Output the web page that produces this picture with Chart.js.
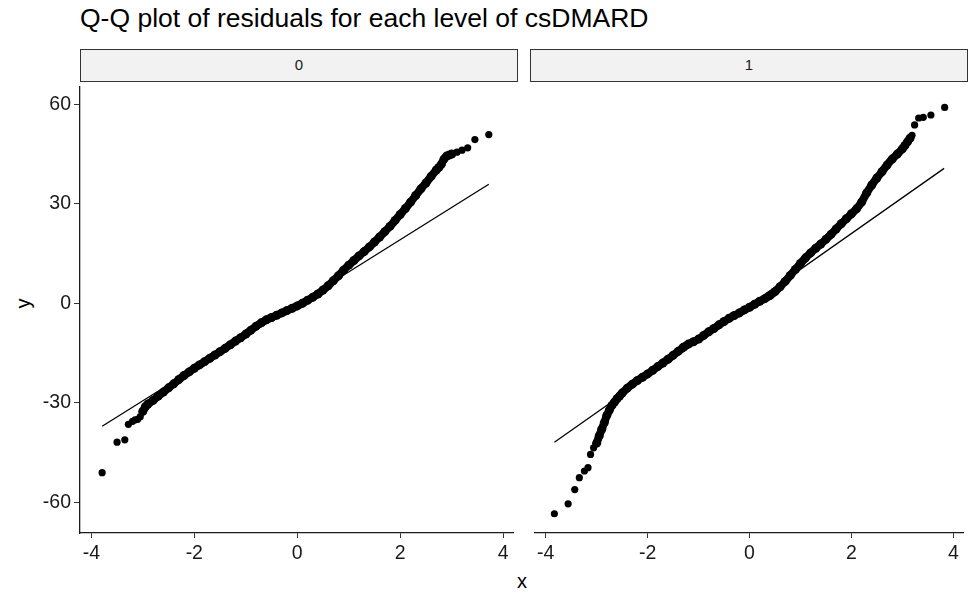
<!DOCTYPE html>
<html>
<head>
<meta charset="utf-8">
<script src="https://cdn.jsdelivr.net/npm/chart.js@4"></script>
<style>
  body { margin: 0; background: #fff; width: 979px; height: 605px; overflow: hidden;
         font-family: "Liberation Sans", Arial, sans-serif; position: relative; }
  #title { position: absolute; left: 80px; top: 3px; font-size: 26.5px; color: #000; white-space: nowrap; }
  .strip { position: absolute; top: 49px; height: 33px; box-sizing: border-box; border: 1.5px solid #333;
           background: #f2f2f2; font-size: 15px; color: #1a1a1a; text-align: center; line-height: 30px; }
  .panel { position: absolute; top: 82px; height: 523px; }
  #ylab { position: absolute; left: 18px; top: 292px; font-size: 20px; transform: rotate(-90deg); color: #000; }
  #xlab { position: absolute; left: 517px; top: 570px; font-size: 20px; color: #000; }
</style>
</head>
<body>
<div id="title">Q-Q plot of residuals for each level of csDMARD</div>
<div class="strip" id="strip0" style="left:80px; width:438px;"></div>
<div class="strip" id="strip1" style="left:530px; width:438px;"></div>
<div id="ylab">y</div>
<div id="xlab">x</div>
<div class="panel" style="left:0; width:518px;"><canvas id="panel0"></canvas></div>
<div class="panel" style="left:530px; width:438px;"><canvas id="panel1"></canvas></div>
<script>
// facet levels
const levels = ["0", "1"];

// ticks
const xTicks = [-4, -2, 0, 2, 4];
const yTicks = [-60, -30, 0, 30, 60];

// csDMARD = 0 : theoretical vs sample quantiles
const q0X = [-3.79, -3.50, -3.35, -3.28, -3.20, -3.15, -3.10, -3.05, -3.00, -2.95, -2.90, -2.80, -2.70, -2.60, -2.50,
  -2.40, -2.30, -2.20, -2.10, -2.00, -1.90, -1.80, -1.70, -1.60, -1.50, -1.40, -1.30, -1.20, -1.10, -1.00,
  -0.90, -0.80, -0.70, -0.60, -0.50, -0.40, -0.30, -0.20, -0.10, 0.00, 0.10, 0.20, 0.30, 0.40, 0.50,
  0.60, 0.70, 0.80, 0.90, 1.00, 1.10, 1.20, 1.30, 1.40, 1.50, 1.60, 1.70, 1.80, 1.90, 2.00,
  2.10, 2.20, 2.30, 2.40, 2.50, 2.60, 2.70, 2.75, 2.80, 2.85, 2.90, 2.95, 3.00, 3.10, 3.20, 3.31, 3.45, 3.72];
const q0Y = [-51.1, -41.9, -41.2, -36.5, -35.6, -35.2, -35.0, -34.2, -32.6, -31.2, -30.4, -29.3, -28.0, -26.8, -25.5,
  -24.3, -23.0, -21.8, -20.7, -19.6, -18.6, -17.6, -16.6, -15.6, -14.6, -13.6, -12.5, -11.4, -10.4, -9.3,
  -8.1, -6.9, -5.9, -5.0, -4.3, -3.6, -2.9, -2.2, -1.5, -0.8, 0.0, 0.9, 1.8, 2.8, 4.0,
  5.3, 6.8, 8.3, 10.0, 11.5, 12.9, 14.3, 15.6, 17.0, 18.5, 20.0, 21.6, 23.2, 25.0, 26.8,
  28.6, 30.5, 32.5, 34.5, 36.3, 38.3, 40.2, 41.0, 42.0, 43.5, 44.4, 44.7, 45.0, 45.6, 46.2, 46.9, 49.4, 50.9];

// csDMARD = 1
const q1X = [-3.83, -3.56, -3.43, -3.34, -3.24, -3.17, -3.12, -3.06, -3.00, -2.95, -2.90, -2.85, -2.80, -2.75, -2.70,
  -2.65, -2.60, -2.55, -2.50, -2.40, -2.30, -2.20, -2.10, -2.00, -1.90, -1.80, -1.70, -1.60, -1.50, -1.40,
  -1.30, -1.20, -1.10, -1.00, -0.90, -0.80, -0.70, -0.60, -0.50, -0.40, -0.30, -0.20, -0.10, 0.00, 0.10,
  0.20, 0.30, 0.40, 0.50, 0.60, 0.70, 0.80, 0.90, 1.00, 1.10, 1.20, 1.30, 1.40, 1.50, 1.60,
  1.70, 1.80, 1.90, 2.00, 2.10, 2.20, 2.30, 2.40, 2.50, 2.60, 2.70, 2.80, 2.90, 3.00, 3.05,
  3.10, 3.15, 3.19, 3.24, 3.32, 3.41, 3.56, 3.83];
const q1Y = [-63.5, -60.5, -56.2, -52.6, -50.6, -49.6, -45.6, -43.6, -42.2, -40.0, -38.0, -36.0, -33.8, -32.2, -30.8,
  -29.8, -28.8, -28.0, -27.1, -25.6, -24.4, -23.3, -22.3, -21.3, -20.2, -19.1, -18.0, -16.9, -15.7, -14.5,
  -13.3, -12.3, -11.6, -10.8, -9.7, -8.6, -7.6, -6.5, -5.5, -4.5, -3.7, -2.9, -2.0, -1.2, -0.3,
  0.6, 1.4, 2.3, 3.5, 5.0, 6.6, 8.4, 10.2, 12.0, 13.7, 15.2, 16.6, 17.9, 19.3, 20.8,
  22.4, 24.0, 25.5, 27.0, 28.5, 30.5, 33.3, 35.7, 37.8, 39.7, 41.7, 43.5, 45.0, 46.6, 47.6,
  48.7, 49.8, 50.7, 53.8, 55.9, 56.1, 56.8, 59.1];

// qq reference lines (end points)
const line0X = [-3.79, 3.72];
const line0Y = [-37.1, 35.9];
const line1X = [-3.83, 3.82];
const line1Y = [-41.9, 40.7];

const xMin = -4.22, xMax = 4.2, yMin = -69.3, yMax = 65.4;
const bodyRange = [[-3.0, 3.0], [-3.0, 3.15]];

function toPoints(xs, ys) {
    return xs.map((x, i) => ({x: x, y: ys[i]}));
}

function makeChart(id, idx, xs, ys, lx, ly) {
    const ctx = document.getElementById(id).getContext("2d");
    const showY = idx === 0;
    const axisFont = {family: "'Liberation Sans', Arial, sans-serif", size: 19.5};
    const pts = toPoints(xs, ys);
    const inBody = (p) => p.x >= bodyRange[idx][0] && p.x <= bodyRange[idx][1];
    return new Chart(ctx, {
        type: "scatter",
        data: {
            datasets: [{
                // dense middle of the sample, where the points pile up into a band
                type: "line",
                data: pts.filter(inBody),
                borderColor: "#000",
                borderWidth: 8,
                borderJoinStyle: "round",
                borderCapStyle: "round",
                tension: 0.3,
                pointRadius: 0,
                fill: false
            }, {
                data: pts,
                backgroundColor: "#000",
                borderWidth: 0,
                pointRadius: (c) => (c.raw && !inBody(c.raw)) ? 3.6 : 4.5
            }, {
                type: "line",
                data: toPoints(lx, ly),
                borderColor: "#000",
                borderWidth: 1.3,
                pointRadius: 0,
                fill: false
            }]
        },
        options: {
            responsive: true,
            maintainAspectRatio: false,
            animation: false,
            layout: {padding: 0},
            plugins: {legend: {display: false}, tooltip: {enabled: false}},
            scales: {
                x: {
                    type: "linear", min: xMin, max: xMax,
                    afterBuildTicks: (s) => { s.ticks = xTicks.map(v => ({value: v})); },
                    afterFit: (s) => { s.height = 72; s.paddingLeft = 0; s.paddingRight = 0; },
                    ticks: {font: axisFont, color: "#1a1a1a", padding: 4, maxRotation: 0},
                    grid: {drawOnChartArea: false, drawTicks: true, tickLength: 5, color: "#333"},
                    border: {display: true, color: "#1a1a1a", width: 1.3}
                },
                y: {
                    type: "linear", min: yMin, max: yMax, display: showY,
                    afterBuildTicks: (s) => { s.ticks = yTicks.map(v => ({value: v})); },
                    afterFit: (s) => {
                        s.width = showY ? 80 : 0;
                        s.paddingTop = 0; s.paddingBottom = 0;
                    },
                    ticks: {font: axisFont, color: "#1a1a1a", padding: 3},
                    grid: {drawOnChartArea: false, drawTicks: true, tickLength: 6, color: "#333"},
                    border: {display: true, color: "#1a1a1a", width: 1.3}
                }
            }
        }
    });
}

document.getElementById("strip0").textContent = levels[0];
document.getElementById("strip1").textContent = levels[1];
makeChart("panel0", 0, q0X, q0Y, line0X, line0Y);
makeChart("panel1", 1, q1X, q1Y, line1X, line1Y);
</script>
</body>
</html>
